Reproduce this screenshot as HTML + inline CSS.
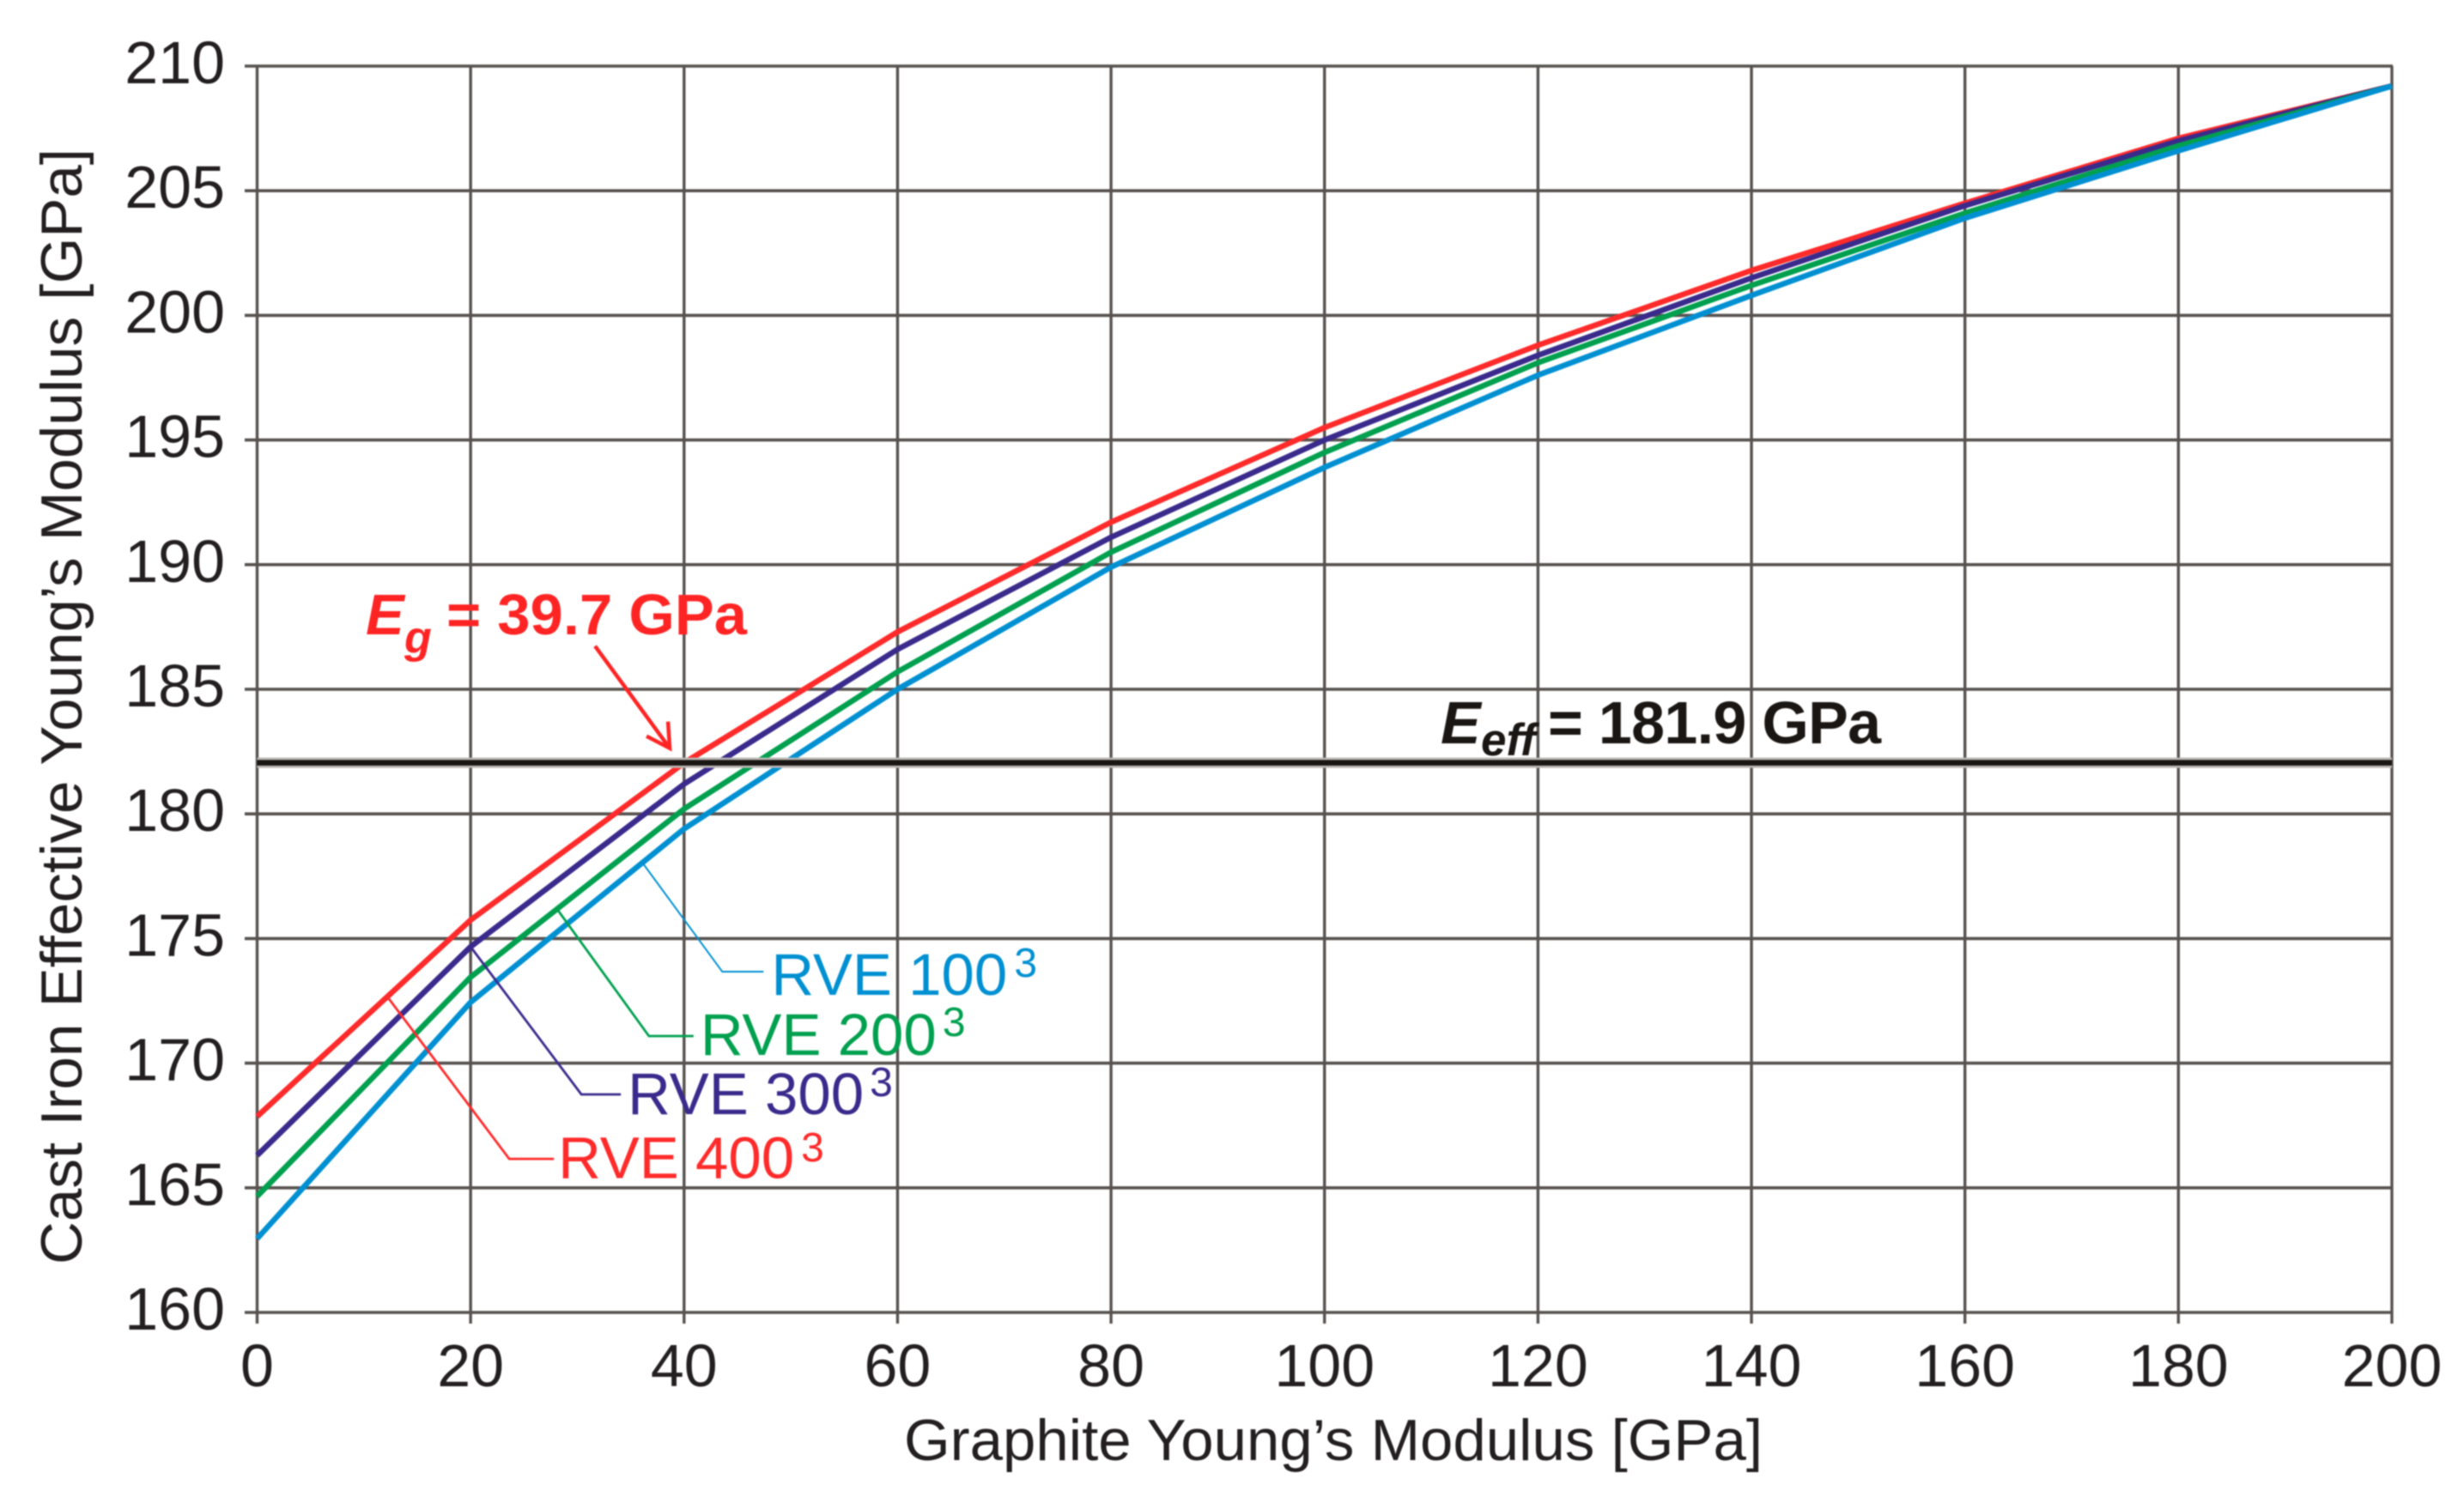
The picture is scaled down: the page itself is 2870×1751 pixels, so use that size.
<!DOCTYPE html>
<html lang="en">
<head>
<meta charset="utf-8">
<title>Cast Iron Effective Young's Modulus</title>
<style>
html,body{margin:0;padding:0;background:#fff;width:2870px;height:1751px;overflow:hidden}
svg{display:block;filter:blur(.8px)}
text{font-family:"Liberation Sans",sans-serif;fill:#231f20}
</style>
</head>
<body>
<svg id="chart" xmlns="http://www.w3.org/2000/svg" width="2870" height="1751" viewBox="0 0 2870 1751">
  <g id="grid"></g>
  <g id="ticks" font-size="70"></g>
  <g id="series"></g>
  <g id="reference"></g>
  <g id="leaders"></g>
  <g id="annotation">
    <text x="426" y="739" font-size="67" font-weight="700" font-style="italic" style="fill:#ff2424">E</text>
    <text x="471" y="760" font-size="52" font-weight="700" font-style="italic" style="fill:#ff2424">g</text>
    <text x="520" y="739" font-size="67" font-weight="700" textLength="350" lengthAdjust="spacingAndGlyphs" style="fill:#ff2424">= 39.7 GPa</text>
  </g>
  <g>
    <text x="1678" y="866" font-size="70" font-weight="700" font-style="italic" style="fill:#1a1613">E</text>
    <text x="1725" y="880" font-size="53" font-weight="700" font-style="italic" style="fill:#1a1613">eff</text>
    <text x="1803" y="866" font-size="70" font-weight="700" textLength="388" lengthAdjust="spacing" style="fill:#1a1613">= 181.9 GPa</text>
  </g>
  <text transform="translate(95 1473) rotate(-90)" font-size="68" textLength="1300" lengthAdjust="spacingAndGlyphs">Cast Iron Effective Young’s Modulus [GPa]</text>
  <text x="1053" y="1701" font-size="68" textLength="1000" lengthAdjust="spacingAndGlyphs">Graphite Young’s Modulus [GPa]</text>
</svg>
<script>
const xTicks = [0, 20, 40, 60, 80, 100, 120, 140, 160, 180, 200];
const yTicks = [160, 165, 170, 175, 180, 185, 190, 195, 200, 205, 210];
const graphiteModulus = [0, 20, 40, 60, 80, 100, 120, 140, 160, 180, 200];
const rve100 = [162.96, 172.44, 179.4, 185.0, 189.9, 193.9, 197.6, 200.8, 203.9, 206.6, 209.2];
const rve200 = [164.66, 173.45, 180.2, 185.7, 190.5, 194.5, 198.1, 201.2, 204.1, 206.8, 209.2];
const rve300 = [166.3, 174.67, 181.2, 186.6, 191.1, 195.0, 198.4, 201.5, 204.4, 207.0, 209.2];
const rve400 = [167.86, 175.74, 182.05, 187.3, 191.7, 195.5, 198.8, 201.8, 204.5, 207.1, 209.2];
const effectiveModulus = 182.05;
const graphiteResult = 39.7;

const NS = 'http://www.w3.org/2000/svg';
const plot = {left: 299.5, right: 2786, top: 77, bottom: 1529};
const sx = v => plot.left + (v - 0) / 200 * (plot.right - plot.left);
const sy = v => plot.bottom - (v - 160) / 50 * (plot.bottom - plot.top);
function make(tag, attrs, parent, text) {
  const el = document.createElementNS(NS, tag);
  for (const k in attrs) el.setAttribute(k, attrs[k]);
  if (text !== undefined) el.textContent = text;
  parent.appendChild(el);
  return el;
}
function valueAt(series, x) {
  for (let i = 1; i < graphiteModulus.length; i++) {
    if (x <= graphiteModulus[i]) {
      const t = (x - graphiteModulus[i - 1]) / (graphiteModulus[i] - graphiteModulus[i - 1]);
      return series[i - 1] + t * (series[i] - series[i - 1]);
    }
  }
  return series[series.length - 1];
}
const gridG = document.getElementById('grid');
const ticksG = document.getElementById('ticks');
const seriesG = document.getElementById('series');
const refG = document.getElementById('reference');
const leadersG = document.getElementById('leaders');
const annG = document.getElementById('annotation');

yTicks.forEach(v => {
  const line = make('line', {x1: 285, x2: plot.right + 1, y1: sy(v), y2: sy(v), stroke: '#57524f', 'stroke-width': 3.6}, gridG);
  
  
  const label = make('text', {x: 262, y: sy(v) + 20, 'text-anchor': 'end'}, ticksG, String(v));
  
  
});
xTicks.forEach(v => {
  const line = make('line', {x1: sx(v), x2: sx(v), y1: plot.top, y2: 1542, stroke: '#57524f', 'stroke-width': 3.4}, gridG);
  
  
  const label = make('text', {x: sx(v), y: 1615, 'text-anchor': 'middle'}, ticksG, String(v));
  
  
});

const curveDefs = [
  {name: 'rve-400-line', values: rve400, color: '#ff2a2a'},
  {name: 'rve-300-line', values: rve300, color: '#3a2a8c'},
  {name: 'rve-200-line', values: rve200, color: '#00a04f'},
  {name: 'rve-100-line', values: rve100, color: '#0090d2'}
];
curveDefs.forEach(c => {
  const pts = c.values.map((v, i) => sx(graphiteModulus[i]).toFixed(1) + ',' + sy(v).toFixed(1)).join(' ');
  const line = make('polyline', {points: pts, fill: 'none', stroke: c.color, 'stroke-width': 6.5, 'stroke-linejoin': 'round'}, seriesG);
  
  
});

const halo = make('line', {x1: plot.left, x2: plot.right, y1: sy(effectiveModulus), y2: sy(effectiveModulus), stroke: '#b9b5b2', 'stroke-width': 12}, refG);


const effLine = make('line', {x1: plot.left, x2: plot.right, y1: sy(effectiveModulus), y2: sy(effectiveModulus), stroke: '#1a1613', 'stroke-width': 6.5}, refG);



const labelDefs = [
  {key: 'rve-400', text: 'RVE 400', series: rve400, at: 12.2, bend: [142, 189], end: 194, tx: 199, ty: 211.5, ex: 482, ey: 192, color: '#ff2a2a', leaderW: 2.8},
  {key: 'rve-300', text: 'RVE 300', series: rve300, at: 20, bend: [129, 172], end: 175, tx: 183, ty: 195, ex: 465, ey: 174, color: '#3a2a8c', leaderW: 2.8},
  {key: 'rve-200', text: 'RVE 200', series: rve200, at: 28.1, bend: [107, 148], end: 159, tx: 167, ty: 170, ex: 449, ey: 148, color: '#00a04f', leaderW: 2.8},
  {key: 'rve-100', text: 'RVE 100', series: rve100, at: 36.1, bend: [93, 127], end: 141, tx: 150, ty: 154, ex: 433, ey: 133, color: '#0090d2', leaderW: 2}
];
labelDefs.forEach(d => {
  const ax = sx(d.at), ay = sy(valueAt(d.series, d.at));
  const bx = ax + d.bend[0], by = ay + d.bend[1];
  const lead = make('polyline', {points: [ax, ay, bx, by, ax + d.end, by].join(' '), fill: 'none', stroke: d.color, 'stroke-width': d.leaderW}, leadersG);
  
  
  const label = make('text', {x: ax + d.tx, y: ay + d.ty, 'font-size': 69, style: 'fill:' + d.color}, leadersG, d.text);
  
  
  const sup = make('text', {x: ax + d.ex, y: ay + d.ey, 'font-size': 48, style: 'fill:' + d.color}, leadersG, '3');
  
  
});

const tipX = sx(graphiteResult) - 13, tipY = sy(effectiveModulus) - 17;
const shaft = make('line', {x1: tipX - 87, y1: tipY - 119, x2: tipX, y2: tipY, stroke: '#ff2424', 'stroke-width': 4.5}, annG);


const head = make('polyline', {points: [tipX - 27, tipY - 14, tipX, tipY, tipX - 2, tipY - 31].join(' '), fill: 'none', stroke: '#ff2424', 'stroke-width': 4.5}, annG);


</script>
</body>
</html>
